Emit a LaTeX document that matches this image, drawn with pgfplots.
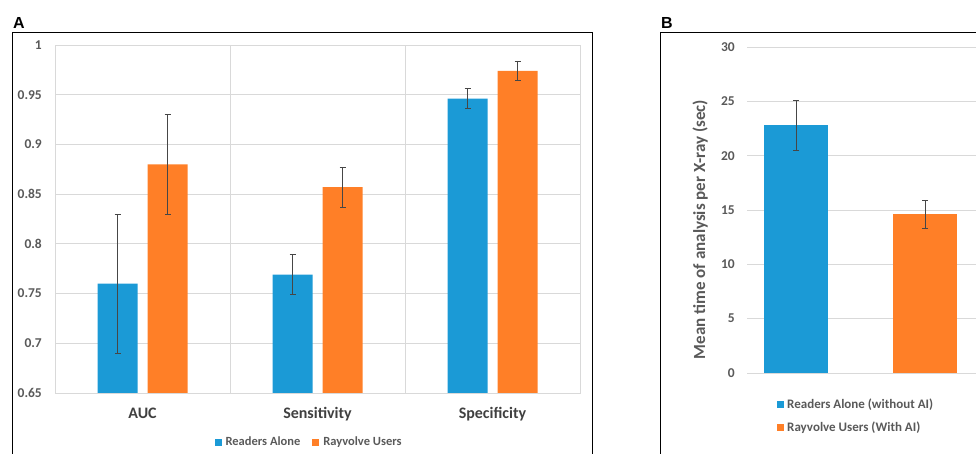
\documentclass[border=0pt]{standalone}
\usepackage{fontspec}
\setmainfont{Carlito}
\newfontfamily\arialfont{Liberation Sans}
\usepackage{pgfplots}
\pgfplotsset{compat=1.18}
\definecolor{barblue}{RGB}{27,154,214}
\definecolor{barorange}{RGB}{255,127,39}
\definecolor{gridgray}{RGB}{217,217,217}
\definecolor{txtgray}{RGB}{89,89,89}
\definecolor{catgray}{RGB}{64,64,64}
\definecolor{errgray}{RGB}{70,70,70}
\begin{document}
\begin{tikzpicture}
\useasboundingbox (0,0) rectangle (976pt,454pt);
\draw[line width=0.9pt] (12pt,-2pt) -- (12pt,422pt) -- (592pt,422pt) -- (592pt,-2pt);
\draw[line width=0.9pt] (660pt,-2pt) -- (660pt,422pt) -- (985pt,422pt);
\node[anchor=base west, inner sep=0pt, font=\arialfont\bfseries\fontsize{16}{16}\selectfont] at (13pt,425pt) {A};
\node[anchor=base west, inner sep=0pt, font=\arialfont\bfseries\fontsize{16}{16}\selectfont] at (661pt,425pt) {B};

\begin{axis}[
  at={(55pt,61pt)}, anchor=south west, scale only axis,
  width=525pt, height=348pt,
  ybar=10pt, bar width=40pt,
  xmin=-0.5, xmax=2.5, ymin=0.65, ymax=1,
  xtick={0,1,2}, xticklabels={AUC,Sensitivity,Specificity},
  ytick={0.65,0.7,0.75,0.8,0.85,0.9,0.95,1},
  yticklabels={0.65,0.7,0.75,0.8,0.85,0.9,0.95,1},
  minor xtick={0.5,1.5}, xminorgrids=true, ymajorgrids=true,
  major grid style={gridgray, line width=0.8pt},
  minor grid style={gridgray, line width=0.8pt},
  axis line style={gridgray, line width=0.8pt},
  major tick length=0pt, minor tick length=0pt,
  tick style={draw=none},
  /pgf/number format/assume math mode=true,
  yticklabel style={font=\bfseries\fontsize{13.5}{13.5}\selectfont, text=txtgray, inner sep=0pt, xshift=-13pt},
  xticklabel style={font=\bfseries\fontsize{16}{16}\selectfont, text=catgray, inner sep=0pt, text height=11pt, yshift=-14pt},
  error bars/y dir=both, error bars/y explicit,
  error bars/error bar style={line width=0.6pt, errgray},
  error bars/error mark options={line width=0.6pt, errgray, mark size=3pt, rotate=90},
  legend columns=2,
  legend style={draw=none, fill=none, at={(0.484,-0.141)}, anchor=center,
    font=\bfseries\fontsize{12.5}{12.5}\selectfont, text=txtgray,
    /tikz/every even column/.append style={column sep=10pt}},
  legend image code/.code={\fill[#1] (0pt,-3.5pt) rectangle (7pt,3.5pt); \path (9pt,0pt);},
]
\addplot[fill=barblue, draw=none] coordinates {(0,0.760) +- (0,0.070) (1,0.769) +- (0,0.020) (2,0.946) +- (0,0.010)};
\addplot[fill=barorange, draw=none] coordinates {(0,0.880) +- (0,0.050) (1,0.857) +- (0,0.020) (2,0.974) +- (0,0.010)};
\legend{Readers Alone, Rayvolve Users}
\end{axis}

\begin{axis}[
  at={(747pt,81pt)}, anchor=south west, scale only axis,
  width=229pt, height=326pt,
  ybar, bar width=64pt,
  xmin=-0.38, xmax=1.395, ymin=0, ymax=30,
  xtick=\empty, ytick={0,5,10,15,20,25,30},
  ymajorgrids=true,
  major grid style={gridgray, line width=0.8pt},
  axis line style={draw=none},
  major tick length=0pt, tick style={draw=none},
  /pgf/number format/assume math mode=true,
  yticklabel style={font=\bfseries\fontsize{13.5}{13.5}\selectfont, text=txtgray, inner sep=0pt, xshift=-12pt},
  ylabel={Mean time of analysis per X-ray (sec)},
  ylabel style={font=\bfseries\fontsize{17}{17}\selectfont, text=txtgray, at={(axis description cs:-0.205,0.44)}, anchor=center},
  error bars/y dir=both, error bars/y explicit,
  error bars/error bar style={line width=0.6pt, errgray},
  error bars/error mark options={line width=0.6pt, errgray, mark size=3pt, rotate=90},
  legend cell align=left,
  legend style={draw=none, fill=none, at={(axis description cs:0.131,-0.0736)}, anchor=north west, inner sep=0pt,
    font=\bfseries\fontsize{13}{13}\selectfont, text=txtgray, row sep=8pt},
  legend image code/.code={\fill[#1] (0pt,-3.5pt) rectangle (7pt,3.5pt); \path (8pt,0pt);},
]
\addplot[fill=barblue, draw=none, bar shift=0pt] coordinates {(0,22.8) +- (0,2.3)};
\addplot[fill=barorange, draw=none, bar shift=0pt] coordinates {(1,14.6) +- (0,1.3)};
\legend{Readers Alone (without AI), Rayvolve Users (With AI)}
\end{axis}
\end{tikzpicture}
\end{document}
